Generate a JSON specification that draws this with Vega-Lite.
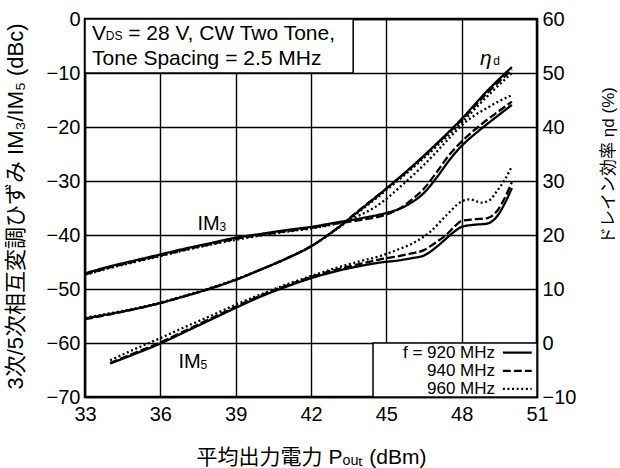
{
  "$schema": "https://vega.github.io/schema/vega-lite/v6.json",
  "width": 452,
  "height": 378,
  "autosize": {"type": "none"},
  "padding": {"left": 85, "top": 19, "right": 83, "bottom": 71},
  "background": "white",
  "config": {
    "font": "Liberation Sans, Noto Sans CJK JP",
    "view": {"stroke": "#000", "strokeWidth": 2.5},
    "axis": {"labelColor": "#000", "titleColor": "#000", "titleFontWeight": "normal", "labelFontSize": 20, "titleFontSize": 21, "ticks": false, "domain": false, "gridColor": "#000", "gridWidth": 1.4, "gridOpacity": 1, "labelFlush": false, "labelOverlap": false, "labelFont": "Liberation Sans", "titleFont": "Liberation Sans, Noto Sans CJK JP"}
  },
  "datasets": {
    "im": [
      {"g": "IM3", "f": "920 MHz", "x": 33, "y": -47.1}, {"g": "IM3", "f": "920 MHz", "x": 34, "y": -45.8}, {"g": "IM3", "f": "920 MHz", "x": 35, "y": -44.7}, {"g": "IM3", "f": "920 MHz", "x": 36, "y": -43.6}, {"g": "IM3", "f": "920 MHz", "x": 37, "y": -42.5}, {"g": "IM3", "f": "920 MHz", "x": 38, "y": -41.5}, {"g": "IM3", "f": "920 MHz", "x": 39, "y": -40.5}, {"g": "IM3", "f": "920 MHz", "x": 40, "y": -39.8}, {"g": "IM3", "f": "920 MHz", "x": 41, "y": -39.1}, {"g": "IM3", "f": "920 MHz", "x": 42, "y": -38.5}, {"g": "IM3", "f": "920 MHz", "x": 43, "y": -37.7}, {"g": "IM3", "f": "920 MHz", "x": 44, "y": -36.9}, {"g": "IM3", "f": "920 MHz", "x": 45, "y": -35.9}, {"g": "IM3", "f": "920 MHz", "x": 45.5, "y": -35.2}, {"g": "IM3", "f": "920 MHz", "x": 46, "y": -34.0}, {"g": "IM3", "f": "920 MHz", "x": 46.5, "y": -32.2}, {"g": "IM3", "f": "920 MHz", "x": 47, "y": -29.4}, {"g": "IM3", "f": "920 MHz", "x": 47.5, "y": -26.2}, {"g": "IM3", "f": "920 MHz", "x": 48, "y": -23.5}, {"g": "IM3", "f": "920 MHz", "x": 48.5, "y": -21.4}, {"g": "IM3", "f": "920 MHz", "x": 49, "y": -19.5}, {"g": "IM3", "f": "920 MHz", "x": 49.5, "y": -17.7}, {"g": "IM3", "f": "920 MHz", "x": 50, "y": -15.9},
      {"g": "IM3", "f": "940 MHz", "x": 33, "y": -47.3}, {"g": "IM3", "f": "940 MHz", "x": 34, "y": -46.0}, {"g": "IM3", "f": "940 MHz", "x": 35, "y": -44.9}, {"g": "IM3", "f": "940 MHz", "x": 36, "y": -43.8}, {"g": "IM3", "f": "940 MHz", "x": 37, "y": -42.7}, {"g": "IM3", "f": "940 MHz", "x": 38, "y": -41.7}, {"g": "IM3", "f": "940 MHz", "x": 39, "y": -40.7}, {"g": "IM3", "f": "940 MHz", "x": 40, "y": -40.0}, {"g": "IM3", "f": "940 MHz", "x": 41, "y": -39.3}, {"g": "IM3", "f": "940 MHz", "x": 42, "y": -38.7}, {"g": "IM3", "f": "940 MHz", "x": 43, "y": -37.9}, {"g": "IM3", "f": "940 MHz", "x": 44, "y": -37.2}, {"g": "IM3", "f": "940 MHz", "x": 45, "y": -36.2}, {"g": "IM3", "f": "940 MHz", "x": 45.5, "y": -35.2}, {"g": "IM3", "f": "940 MHz", "x": 46, "y": -33.5}, {"g": "IM3", "f": "940 MHz", "x": 46.5, "y": -31.4}, {"g": "IM3", "f": "940 MHz", "x": 47, "y": -28.4}, {"g": "IM3", "f": "940 MHz", "x": 47.5, "y": -25.2}, {"g": "IM3", "f": "940 MHz", "x": 48, "y": -22.7}, {"g": "IM3", "f": "940 MHz", "x": 48.5, "y": -20.6}, {"g": "IM3", "f": "940 MHz", "x": 49, "y": -18.7}, {"g": "IM3", "f": "940 MHz", "x": 49.5, "y": -17.0}, {"g": "IM3", "f": "940 MHz", "x": 50, "y": -15.3},
      {"g": "IM3", "f": "960 MHz", "x": 33, "y": -47.4}, {"g": "IM3", "f": "960 MHz", "x": 34, "y": -46.1}, {"g": "IM3", "f": "960 MHz", "x": 35, "y": -45.0}, {"g": "IM3", "f": "960 MHz", "x": 36, "y": -43.9}, {"g": "IM3", "f": "960 MHz", "x": 37, "y": -42.8}, {"g": "IM3", "f": "960 MHz", "x": 38, "y": -41.8}, {"g": "IM3", "f": "960 MHz", "x": 39, "y": -40.9}, {"g": "IM3", "f": "960 MHz", "x": 40, "y": -40.1}, {"g": "IM3", "f": "960 MHz", "x": 41, "y": -39.4}, {"g": "IM3", "f": "960 MHz", "x": 42, "y": -38.8}, {"g": "IM3", "f": "960 MHz", "x": 43, "y": -37.9}, {"g": "IM3", "f": "960 MHz", "x": 43.5, "y": -37.3}, {"g": "IM3", "f": "960 MHz", "x": 44, "y": -36.2}, {"g": "IM3", "f": "960 MHz", "x": 44.5, "y": -35.0}, {"g": "IM3", "f": "960 MHz", "x": 45, "y": -33.3}, {"g": "IM3", "f": "960 MHz", "x": 45.5, "y": -31.3}, {"g": "IM3", "f": "960 MHz", "x": 46, "y": -29.2}, {"g": "IM3", "f": "960 MHz", "x": 46.5, "y": -27.0}, {"g": "IM3", "f": "960 MHz", "x": 47, "y": -24.6}, {"g": "IM3", "f": "960 MHz", "x": 47.5, "y": -22.1}, {"g": "IM3", "f": "960 MHz", "x": 48, "y": -19.7}, {"g": "IM3", "f": "960 MHz", "x": 48.5, "y": -17.9}, {"g": "IM3", "f": "960 MHz", "x": 49, "y": -16.5}, {"g": "IM3", "f": "960 MHz", "x": 49.5, "y": -15.2}, {"g": "IM3", "f": "960 MHz", "x": 50, "y": -14.1},
      {"g": "IM5", "f": "920 MHz", "x": 34, "y": -63.8}, {"g": "IM5", "f": "920 MHz", "x": 35, "y": -62.0}, {"g": "IM5", "f": "920 MHz", "x": 36, "y": -60.1}, {"g": "IM5", "f": "920 MHz", "x": 37, "y": -57.9}, {"g": "IM5", "f": "920 MHz", "x": 38, "y": -55.7}, {"g": "IM5", "f": "920 MHz", "x": 39, "y": -53.5}, {"g": "IM5", "f": "920 MHz", "x": 40, "y": -51.4}, {"g": "IM5", "f": "920 MHz", "x": 41, "y": -49.6}, {"g": "IM5", "f": "920 MHz", "x": 42, "y": -48.0}, {"g": "IM5", "f": "920 MHz", "x": 43, "y": -46.7}, {"g": "IM5", "f": "920 MHz", "x": 44, "y": -45.7}, {"g": "IM5", "f": "920 MHz", "x": 44.75, "y": -45.1}, {"g": "IM5", "f": "920 MHz", "x": 45.5, "y": -44.7}, {"g": "IM5", "f": "920 MHz", "x": 46, "y": -44.3}, {"g": "IM5", "f": "920 MHz", "x": 46.5, "y": -43.8}, {"g": "IM5", "f": "920 MHz", "x": 46.75, "y": -43.1}, {"g": "IM5", "f": "920 MHz", "x": 47, "y": -42.2}, {"g": "IM5", "f": "920 MHz", "x": 47.4, "y": -40.6}, {"g": "IM5", "f": "920 MHz", "x": 47.7, "y": -39.4}, {"g": "IM5", "f": "920 MHz", "x": 48, "y": -38.5}, {"g": "IM5", "f": "920 MHz", "x": 48.5, "y": -38.1}, {"g": "IM5", "f": "920 MHz", "x": 49, "y": -37.9}, {"g": "IM5", "f": "920 MHz", "x": 49.4, "y": -36.6}, {"g": "IM5", "f": "920 MHz", "x": 49.7, "y": -34.3}, {"g": "IM5", "f": "920 MHz", "x": 50, "y": -31.3},
      {"g": "IM5", "f": "940 MHz", "x": 34, "y": -63.7}, {"g": "IM5", "f": "940 MHz", "x": 35, "y": -61.8}, {"g": "IM5", "f": "940 MHz", "x": 36, "y": -59.9}, {"g": "IM5", "f": "940 MHz", "x": 37, "y": -57.7}, {"g": "IM5", "f": "940 MHz", "x": 38, "y": -55.5}, {"g": "IM5", "f": "940 MHz", "x": 39, "y": -53.3}, {"g": "IM5", "f": "940 MHz", "x": 40, "y": -51.2}, {"g": "IM5", "f": "940 MHz", "x": 41, "y": -49.4}, {"g": "IM5", "f": "940 MHz", "x": 42, "y": -47.8}, {"g": "IM5", "f": "940 MHz", "x": 43, "y": -46.4}, {"g": "IM5", "f": "940 MHz", "x": 44, "y": -45.3}, {"g": "IM5", "f": "940 MHz", "x": 44.75, "y": -44.5}, {"g": "IM5", "f": "940 MHz", "x": 45.5, "y": -43.9}, {"g": "IM5", "f": "940 MHz", "x": 46, "y": -43.4}, {"g": "IM5", "f": "940 MHz", "x": 46.5, "y": -42.8}, {"g": "IM5", "f": "940 MHz", "x": 46.75, "y": -42.1}, {"g": "IM5", "f": "940 MHz", "x": 47, "y": -41.3}, {"g": "IM5", "f": "940 MHz", "x": 47.4, "y": -39.9}, {"g": "IM5", "f": "940 MHz", "x": 47.7, "y": -38.5}, {"g": "IM5", "f": "940 MHz", "x": 48, "y": -37.4}, {"g": "IM5", "f": "940 MHz", "x": 48.5, "y": -37.1}, {"g": "IM5", "f": "940 MHz", "x": 49, "y": -36.9}, {"g": "IM5", "f": "940 MHz", "x": 49.4, "y": -35.6}, {"g": "IM5", "f": "940 MHz", "x": 49.7, "y": -33.3}, {"g": "IM5", "f": "940 MHz", "x": 50, "y": -30.2},
      {"g": "IM5", "f": "960 MHz", "x": 34, "y": -63.2}, {"g": "IM5", "f": "960 MHz", "x": 35, "y": -61.1}, {"g": "IM5", "f": "960 MHz", "x": 36, "y": -59.1}, {"g": "IM5", "f": "960 MHz", "x": 37, "y": -57.0}, {"g": "IM5", "f": "960 MHz", "x": 38, "y": -55.0}, {"g": "IM5", "f": "960 MHz", "x": 39, "y": -52.9}, {"g": "IM5", "f": "960 MHz", "x": 40, "y": -51.0}, {"g": "IM5", "f": "960 MHz", "x": 41, "y": -49.2}, {"g": "IM5", "f": "960 MHz", "x": 42, "y": -47.6}, {"g": "IM5", "f": "960 MHz", "x": 43, "y": -46.1}, {"g": "IM5", "f": "960 MHz", "x": 44, "y": -44.8}, {"g": "IM5", "f": "960 MHz", "x": 44.75, "y": -43.9}, {"g": "IM5", "f": "960 MHz", "x": 45.4, "y": -42.8}, {"g": "IM5", "f": "960 MHz", "x": 46.1, "y": -41.4}, {"g": "IM5", "f": "960 MHz", "x": 46.75, "y": -39.4}, {"g": "IM5", "f": "960 MHz", "x": 47.4, "y": -36.3}, {"g": "IM5", "f": "960 MHz", "x": 48, "y": -33.8}, {"g": "IM5", "f": "960 MHz", "x": 48.3, "y": -33.4}, {"g": "IM5", "f": "960 MHz", "x": 48.8, "y": -34.0}, {"g": "IM5", "f": "960 MHz", "x": 49.1, "y": -33.6}, {"g": "IM5", "f": "960 MHz", "x": 49.4, "y": -31.9}, {"g": "IM5", "f": "960 MHz", "x": 49.7, "y": -29.9}, {"g": "IM5", "f": "960 MHz", "x": 50, "y": -27.3}
    ],
    "eta": [
      {"f": "920 MHz", "x": 33, "v": 4.5}, {"f": "920 MHz", "x": 34, "v": 5.4}, {"f": "920 MHz", "x": 35, "v": 6.3}, {"f": "920 MHz", "x": 36, "v": 7.4}, {"f": "920 MHz", "x": 37, "v": 8.7}, {"f": "920 MHz", "x": 38, "v": 10.1}, {"f": "920 MHz", "x": 39, "v": 11.7}, {"f": "920 MHz", "x": 40, "v": 13.6}, {"f": "920 MHz", "x": 41, "v": 15.6}, {"f": "920 MHz", "x": 42, "v": 17.9}, {"f": "920 MHz", "x": 43, "v": 21.1}, {"f": "920 MHz", "x": 44, "v": 24.8}, {"f": "920 MHz", "x": 45, "v": 28.6}, {"f": "920 MHz", "x": 46, "v": 32.6}, {"f": "920 MHz", "x": 47, "v": 36.9}, {"f": "920 MHz", "x": 48, "v": 41.5}, {"f": "920 MHz", "x": 49, "v": 46.6}, {"f": "920 MHz", "x": 50, "v": 51.1},
      {"f": "940 MHz", "x": 33, "v": 4.4}, {"f": "940 MHz", "x": 34, "v": 5.3}, {"f": "940 MHz", "x": 35, "v": 6.3}, {"f": "940 MHz", "x": 36, "v": 7.4}, {"f": "940 MHz", "x": 37, "v": 8.7}, {"f": "940 MHz", "x": 38, "v": 10.1}, {"f": "940 MHz", "x": 39, "v": 11.7}, {"f": "940 MHz", "x": 40, "v": 13.6}, {"f": "940 MHz", "x": 41, "v": 15.6}, {"f": "940 MHz", "x": 42, "v": 17.9}, {"f": "940 MHz", "x": 43, "v": 21.1}, {"f": "940 MHz", "x": 44, "v": 24.9}, {"f": "940 MHz", "x": 45, "v": 28.6}, {"f": "940 MHz", "x": 46, "v": 32.5}, {"f": "940 MHz", "x": 47, "v": 36.8}, {"f": "940 MHz", "x": 48, "v": 41.3}, {"f": "940 MHz", "x": 49, "v": 46.2}, {"f": "940 MHz", "x": 50, "v": 50.6},
      {"f": "960 MHz", "x": 33, "v": 4.7}, {"f": "960 MHz", "x": 34, "v": 5.5}, {"f": "960 MHz", "x": 35, "v": 6.4}, {"f": "960 MHz", "x": 36, "v": 7.5}, {"f": "960 MHz", "x": 37, "v": 8.8}, {"f": "960 MHz", "x": 38, "v": 10.2}, {"f": "960 MHz", "x": 39, "v": 11.8}, {"f": "960 MHz", "x": 40, "v": 13.6}, {"f": "960 MHz", "x": 41, "v": 15.6}, {"f": "960 MHz", "x": 42, "v": 17.9}, {"f": "960 MHz", "x": 43, "v": 21.0}, {"f": "960 MHz", "x": 44, "v": 24.6}, {"f": "960 MHz", "x": 45, "v": 28.3}, {"f": "960 MHz", "x": 46, "v": 32.2}, {"f": "960 MHz", "x": 47, "v": 36.4}, {"f": "960 MHz", "x": 48, "v": 40.8}, {"f": "960 MHz", "x": 49, "v": 45.6}, {"f": "960 MHz", "x": 50, "v": 50.0}
    ],
    "boxes": [
      {"x": 33, "x2": 43.68, "y": 0, "y2": -10},
      {"x": 44.47, "x2": 51, "y": -60, "y2": -70}
    ],
    "texts": [
      {"role": "main", "t": "V", "x": 33.28, "y": -3.89},
      {"role": "sub", "t": "DS", "x": 33.83, "y": -3.89},
      {"role": "main", "t": "= 28 V, CW Two Tone,", "x": 34.72, "y": -3.89},
      {"role": "main", "t": "Tone Spacing = 2.5 MHz", "x": 33.28, "y": -8.52},
      {"role": "label", "t": "IM", "x": 37.48, "y": -39.07},
      {"role": "sub", "t": "3", "x": 38.36, "y": -39.3},
      {"role": "label", "t": "IM", "x": 36.72, "y": -64.6},
      {"role": "sub", "t": "5", "x": 37.6, "y": -64.8},
      {"role": "greek", "t": "η", "x": 48.73, "y": -8.5},
      {"role": "sub", "t": "d", "x": 49.26, "y": -8.5}
    ],
    "legend": [
      {"f": "920 MHz", "t": "f = 920 MHz", "x": 49.64, "x2": 50.79, "xt": 49.33, "y": -61.8},
      {"f": "940 MHz", "t": "940 MHz", "x": 49.64, "x2": 50.79, "xt": 49.33, "y": -65.15},
      {"f": "960 MHz", "t": "960 MHz", "x": 49.64, "x2": 50.79, "xt": 49.33, "y": -68.5}
    ]
  },
  "encoding": {
    "x": {"field": "x", "type": "quantitative", "scale": {"domain": [33, 51], "nice": false, "zero": false},
      "axis": {"values": [33, 36, 39, 42, 45, 48, 51], "grid": true, "labelPadding": 7, "title": "平均出力電力  Pₒᵤₜ (dBm)", "titleY": 60, "titleBaseline": "middle"}}
  },
  "layer": [
    {
      "encoding": {
        "y": {"field": "y", "type": "quantitative", "scale": {"domain": [-70, 0], "nice": false, "zero": false},
          "axis": {"values": [-70, -60, -50, -40, -30, -20, -10, 0], "grid": true, "labelPadding": 5, "title": "3次/5次相互変調ひずみ  IM₃/IM₅ (dBc)", "titleFontSize": 22, "titleAngle": 270, "titleX": -70, "titleY": 187, "titleBaseline": "middle", "titleAlign": "center"}}
      },
      "layer": [
        {
          "data": {"name": "im"},
          "mark": {"type": "line", "interpolate": "monotone", "strokeWidth": 2.3, "color": "#000", "strokeCap": "butt"},
          "encoding": {
            "detail": {"field": "g"},
            "strokeDash": {"field": "f", "type": "nominal", "scale": {"domain": ["920 MHz", "940 MHz", "960 MHz"], "range": [[1, 0], [8, 3], [2, 2.6]]}, "legend": null}
          }
        },
        {
          "data": {"name": "boxes"},
          "mark": {"type": "rect", "fill": "#fff", "stroke": "#000", "strokeWidth": 1.5},
          "encoding": {"x2": {"field": "x2"}, "y2": {"field": "y2"}}
        },
        {
          "data": {"name": "texts"},
          "transform": [{"filter": "datum.role === 'main'"}],
          "mark": {"type": "text", "align": "left", "baseline": "alphabetic", "fontSize": 21, "color": "#000"},
          "encoding": {"text": {"field": "t"}}
        },
        {
          "data": {"name": "texts"},
          "transform": [{"filter": "datum.role === 'label'"}],
          "mark": {"type": "text", "align": "left", "baseline": "alphabetic", "fontSize": 20, "color": "#000"},
          "encoding": {"text": {"field": "t"}}
        },
        {
          "data": {"name": "texts"},
          "transform": [{"filter": "datum.role === 'greek'"}],
          "mark": {"type": "text", "align": "left", "baseline": "alphabetic", "fontSize": 21, "fontStyle": "italic", "color": "#000"},
          "encoding": {"text": {"field": "t"}}
        },
        {
          "data": {"name": "texts"},
          "transform": [{"filter": "datum.role === 'sub'"}],
          "mark": {"type": "text", "align": "left", "baseline": "alphabetic", "fontSize": 12, "color": "#000"},
          "encoding": {"text": {"field": "t"}}
        },
        {
          "data": {"name": "legend"},
          "mark": {"type": "rule", "strokeWidth": 2.3, "color": "#000", "strokeCap": "butt"},
          "encoding": {
            "x2": {"field": "x2"},
            "strokeDash": {"field": "f", "type": "nominal", "legend": null}
          }
        },
        {
          "data": {"name": "legend"},
          "mark": {"type": "text", "align": "right", "baseline": "middle", "fontSize": 17, "color": "#000"},
          "encoding": {"x": {"field": "xt", "type": "quantitative"}, "text": {"field": "t"}}
        }
      ]
    },
    {
      "data": {"name": "eta"},
      "mark": {"type": "line", "interpolate": "monotone", "strokeWidth": 2.3, "color": "#000", "strokeCap": "butt"},
      "encoding": {
        "y": {"field": "v", "type": "quantitative", "scale": {"domain": [-10, 60], "nice": false, "zero": false},
          "axis": {"orient": "right", "values": [-10, 0, 10, 20, 30, 40, 50, 60], "grid": false, "labelPadding": 5, "title": "ドレイン効率  ηd (%)", "titleFontSize": 17, "titleAngle": 270, "titleX": 71, "titleY": 146, "titleBaseline": "middle", "titleAlign": "center"}},
        "strokeDash": {"field": "f", "type": "nominal", "legend": null}
      }
    }
  ],
  "resolve": {"scale": {"y": "independent"}}
}
